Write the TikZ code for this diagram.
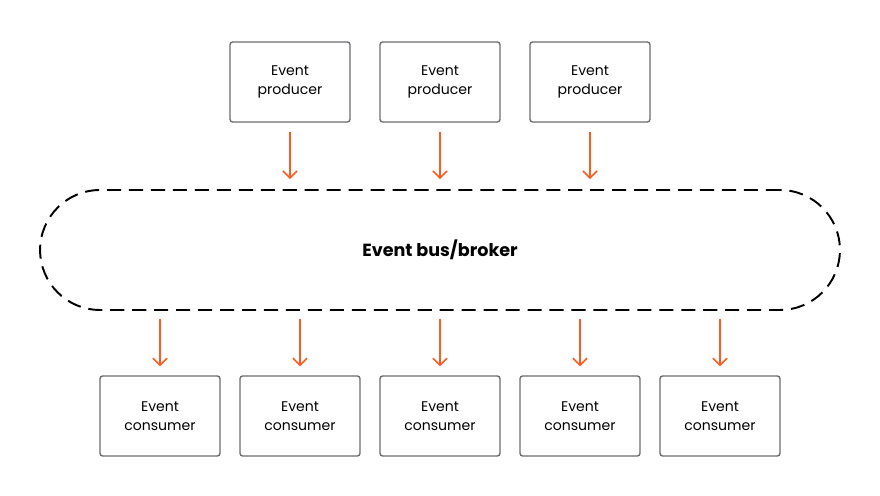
\documentclass[tikz,border=0pt]{standalone}
\usepackage{fontspec}
\setmainfont{Poppins}
\usetikzlibrary{arrows.meta}
\definecolor{evorange}{HTML}{FF5A1F}
\definecolor{evgray}{HTML}{6D6D72}
\tikzset{
    evbox/.style={draw=evgray, line width=0.8pt, rounded corners=1.5pt, minimum width=2.4cm, minimum height=1.6cm, align=center, font=\fontsize{8}{10.8}\selectfont},
    evarrow/.style={draw=evorange, line width=0.9pt, -{Straight Barb[length=4pt,width=8pt]}},
}
\begin{document}
\begin{tikzpicture}[x=0.02cm, y=-0.02cm]
    \useasboundingbox (0,0) rectangle (880,496);
    %producers
    \node[evbox] (p1) at (290,82) {Event\\producer};
    \node[evbox] (p2) at (440,82) {Event\\producer};
    \node[evbox] (p3) at (590,82) {Event\\producer};
    %bus
    \node[draw, line width=1.1pt, dash pattern=on 8pt off 4.5pt, rounded corners=1.2cm, minimum width=16cm, minimum height=2.4cm, font=\fontsize{10}{12}\selectfont\bfseries] (bus) at (440,250) {Event bus/broker};
    %consumers
    \node[evbox] (c1) at (160,416) {Event\\consumer};
    \node[evbox] (c2) at (300,416) {Event\\consumer};
    \node[evbox] (c3) at (440,416) {Event\\consumer};
    \node[evbox] (c4) at (580,416) {Event\\consumer};
    \node[evbox] (c5) at (720,416) {Event\\consumer};
    \foreach \p in {p1,p2,p3}
        \draw[evarrow, shorten <=9*0.02cm, shorten >=10*0.02cm] (\p.south) -- (\p.south |- bus.north);
    \foreach \c in {c1,c2,c3,c4,c5}
        \draw[evarrow, shorten <=8*0.02cm, shorten >=9*0.02cm] (\c.north |- bus.south) -- (\c.north);
\end{tikzpicture}
\end{document}
